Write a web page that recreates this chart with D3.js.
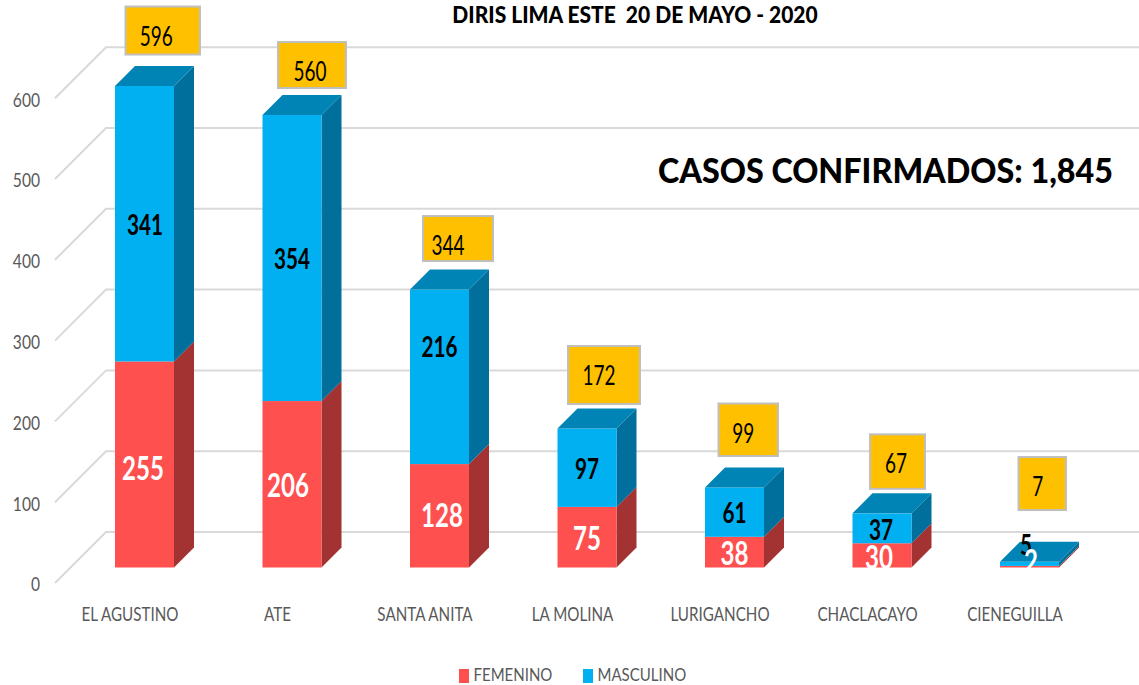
<!DOCTYPE html>
<html>
<head>
<meta charset="utf-8">
<title>DIRIS LIMA ESTE</title>
<script src="https://cdn.jsdelivr.net/npm/d3@7"></script>
<style>
    html, body { margin: 0; padding: 0; background: #fff; }
    svg { display: block; font-family: Lato, "Open Sans", sans-serif; }
</style>
</head>
<body>
<script>
const categories = ['EL AGUSTINO', 'ATE', 'SANTA ANITA', 'LA MOLINA', 'LURIGANCHO', 'CHACLACAYO', 'CIENEGUILLA']
const femenino = [255, 206, 128, 75, 38, 30, 2]
const masculino = [341, 354, 216, 97, 61, 37, 5]
const totals = [596, 560, 344, 172, 99, 67, 7]
const yTicks = [0, 100, 200, 300, 400, 500, 600]
const titleText = 'DIRIS LIMA ESTE\u00a0\u00a020 DE MAYO - 2020'
const casosText = 'CASOS CONFIRMADOS: 1,845'
const seriesNames = ['FEMENINO', 'MASCULINO']

// hand placed nudges, the original labels were dragged around in the spreadsheet
const boxDx = [10.5, 15.5, 13, 10.5, 13.5, 17.5, 18.5]
const boxDy = [-79.4, -73, -73.5, -82.5, -84, -79, -104.8]
const boxW = [74.5, 68, 70, 72, 59.5, 55, 47.5]
const boxH = [48, 46, 45, 58, 52.5, 54.5, 53]
const boxTextDx = [-6.5, -2, -10, -5, -5, -1.5, -4.5]
const boxTextDy = [5.5, 6, 6.5, 0, 3.5, 1.5, 2.5]
const femDx = [-1.5, -4, 2.5, 0, 0, -3, 1.5]
const femDy = [2, 0, -2, 0, 0, 0, -7]
const mascDx = [0.5, 0, 0, 0, 0, -1, -3.5]
const mascDy = [1, 0.5, -31, 0.5, 0.5, 1, -20]

const width = 1139
const height = 685
const baseY = 567.5
const depth = 20
const frontDrop = 15.5
const backRise = 35.5

const colors = {
    fem: { front: '#ff5050', side: '#a33232' },
    masc: { front: '#00b0f0', side: '#006f9c', top: '#0084b6' }
}

const x = d3.scaleBand()
    .domain(categories)
    .range([70.75, 1103.25])
    .paddingInner(0.6)
    .paddingOuter(0.3)

const y = d3.scaleLinear()
    .domain([0, 600])
    .range([baseY, baseY - 484.8])

const svg = d3.select('body').append('svg')
    .attr('width', width)
    .attr('height', height)

const squeeze = function(px, py, sx) {
    return 'translate(' + px + ',' + py + ') scale(' + sx + ',1)'
}

// gridlines: floor edge going back, then along the back wall
const gridLine = d3.line()
svg.append('g').selectAll('path')
    .data(yTicks)
    .enter()
    .append('path')
    .attr('d', function(v) {
        return gridLine([[55, y(v) + frontDrop], [106, y(v) - backRise], [width, y(v) - backRise]])
    })
    .attr('fill', 'none')
    .attr('stroke', '#d9d9d9')
    .attr('stroke-width', 2)

// axes
const yAxis = svg.append('g')
    .attr('transform', 'translate(40,' + frontDrop + ')')
    .call(d3.axisLeft(y).tickValues(yTicks).tickSize(0))
yAxis.select('.domain').remove()
yAxis.selectAll('text')
    .attr('x', null)
    .attr('dy', null)
    .attr('dominant-baseline', 'central')
    .attr('transform', 'scale(0.78,1)')
    .style('font-family', 'Lato')
    .style('font-size', '20px')
    .style('fill', '#595959')

const xAxis = svg.append('g')
    .attr('transform', 'translate(-14.5,621)')
    .call(d3.axisBottom(x).tickSize(0))
xAxis.select('.domain').remove()
xAxis.selectAll('text')
    .attr('y', null)
    .attr('dy', null)
    .attr('transform', 'scale(0.76,1)')
    .style('font-family', 'Lato')
    .style('font-size', '20px')
    .style('fill', '#595959')

// bars, 3d box per segment
const bars = svg.append('g').selectAll('g')
    .data(categories)
    .enter()
    .append('g')

const bw = x.bandwidth()
const sidePath = function(left, y0, y1) {
    const r = left + bw
    return gridLine([[r, y0], [r + depth, y0 - depth], [r + depth, y1 - depth], [r, y1]]) + 'Z'
}

bars.append('path')
    .attr('d', function(c, i) { return sidePath(x(c), y(0), y(femenino[i])) })
    .attr('fill', colors.fem.side)
bars.append('rect')
    .attr('x', function(c) { return x(c) })
    .attr('y', function(c, i) { return y(femenino[i]) })
    .attr('width', bw)
    .attr('height', function(c, i) { return y(0) - y(femenino[i]) })
    .attr('fill', colors.fem.front)

bars.append('path')
    .attr('d', function(c, i) { return sidePath(x(c), y(femenino[i]), y(totals[i])) })
    .attr('fill', colors.masc.side)
bars.append('rect')
    .attr('x', function(c) { return x(c) })
    .attr('y', function(c, i) { return y(totals[i]) })
    .attr('width', bw)
    .attr('height', function(c, i) { return y(femenino[i]) - y(totals[i]) })
    .attr('fill', colors.masc.front)
bars.append('path')
    .attr('d', function(c, i) {
        const top = y(totals[i])
        const left = x(c)
        return gridLine([[left, top], [left + depth, top - depth], [left + bw + depth, top - depth], [left + bw, top]]) + 'Z'
    })
    .attr('fill', colors.masc.top)

// total boxes
bars.append('rect')
    .attr('x', function(c, i) { return x(c) + boxDx[i] })
    .attr('y', function(c, i) { return y(totals[i]) + boxDy[i] })
    .attr('width', function(c, i) { return boxW[i] })
    .attr('height', function(c, i) { return boxH[i] })
    .attr('fill', '#ffc000')
    .attr('stroke', '#bfbfbf')
    .attr('stroke-width', 2)
bars.append('text')
    .attr('transform', function(c, i) {
        const px = x(c) + boxDx[i] + boxW[i] / 2 + boxTextDx[i]
        const py = y(totals[i]) + boxDy[i] + boxH[i] / 2 + boxTextDy[i]
        return squeeze(px, py, 0.73)
    })
    .attr('text-anchor', 'middle')
    .attr('dominant-baseline', 'central')
    .style('font-size', '26px')
    .style('fill', '#000')
    .text(function(c, i) { return totals[i] })

// segment values
bars.append('text')
    .attr('transform', function(c, i) {
        const px = x(c) + bw / 2 + mascDx[i]
        const py = (y(femenino[i]) + y(totals[i])) / 2 + mascDy[i]
        return squeeze(px, py, 0.74)
    })
    .attr('text-anchor', 'middle')
    .attr('dominant-baseline', 'central')
    .style('font-size', '28px')
    .style('font-weight', 700)
    .style('fill', '#000')
    .text(function(c, i) { return masculino[i] })
bars.append('text')
    .attr('transform', function(c, i) {
        const px = x(c) + bw / 2 + femDx[i]
        const py = (y(0) + y(femenino[i])) / 2 + femDy[i]
        return squeeze(px, py, 0.73)
    })
    .attr('text-anchor', 'middle')
    .attr('dominant-baseline', 'central')
    .style('font-size', '33px')
    .style('font-weight', 700)
    .style('fill', '#fff')
    .text(function(c, i) { return femenino[i] })

// titles
svg.append('text')
    .attr('transform', squeeze(635, 14, 0.913))
    .attr('text-anchor', 'middle')
    .attr('dominant-baseline', 'central')
    .style('font-size', '23px')
    .style('font-weight', 900)
    .style('fill', '#000')
    .text(titleText)
svg.append('text')
    .attr('transform', squeeze(885.5, 170, 0.95))
    .attr('text-anchor', 'middle')
    .attr('dominant-baseline', 'central')
    .style('font-size', '34px')
    .style('font-weight', 900)
    .style('fill', '#000')
    .text(casosText)

// legend
const legendX = d3.scaleOrdinal().domain(seriesNames).range([459, 583])
const legendColor = d3.scaleOrdinal().domain(seriesNames).range([colors.fem.front, colors.masc.front])
const legend = svg.append('g').selectAll('g')
    .data(seriesNames)
    .enter()
    .append('g')
    .attr('transform', function(d) { return 'translate(' + legendX(d) + ',669)' })
legend.append('rect')
    .attr('width', 10)
    .attr('height', 14)
    .attr('fill', function(d) { return legendColor(d) })
legend.append('text')
    .attr('transform', squeeze(14.5, 5, 0.834))
    .attr('dominant-baseline', 'central')
    .style('font-size', '18px')
    .style('fill', '#595959')
    .text(function(d) { return d })
</script>
</body>
</html>
